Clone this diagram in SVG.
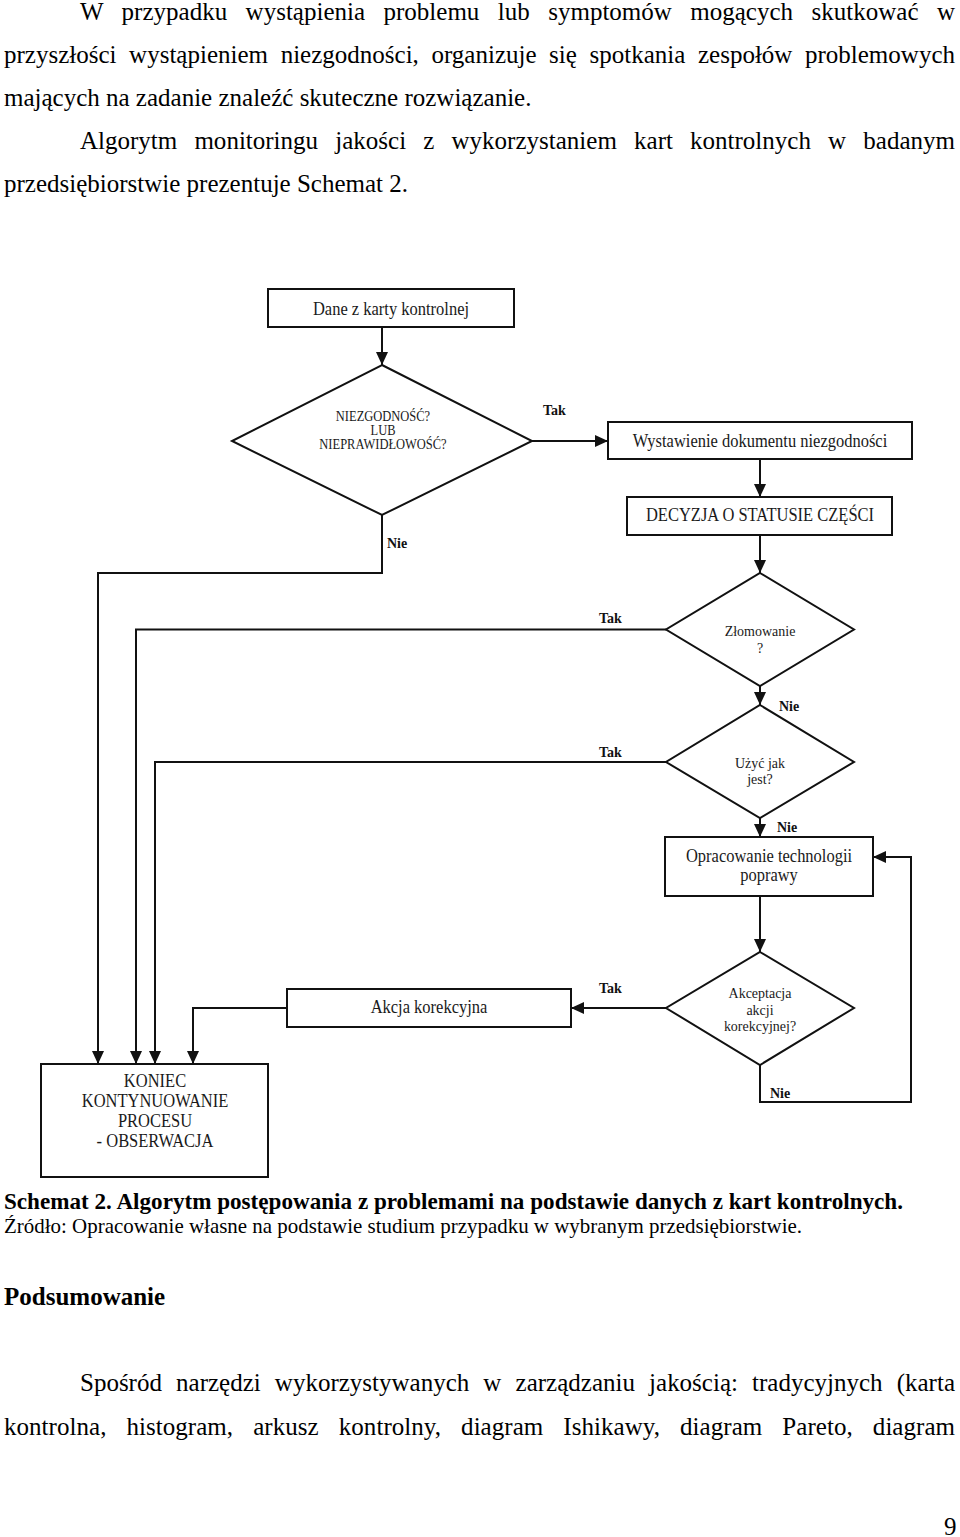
<svg xmlns="http://www.w3.org/2000/svg" width="960" height="1537" viewBox="0 0 960 1537">
<style>
text{font-family:"Liberation Serif","Times New Roman",serif;fill:#000}
.body{font-size:25px}
.bb{font-size:25px;font-weight:bold}
.box{fill:#fff;stroke:#111;stroke-width:2}
.dt{font-size:16.5px;fill:#1a1a1a;text-anchor:middle}
.dd{font-size:14px;fill:#1a1a1a;text-anchor:middle}
.d1{font-size:12.5px;fill:#1a1a1a;text-anchor:middle}
.lb{font-size:14px;font-weight:bold;fill:#111}
.ln{fill:none;stroke:#111;stroke-width:2}
.ar{marker-end:url(#ah)}
</style>
<defs>
<marker id="ah" markerUnits="userSpaceOnUse" markerWidth="14" markerHeight="14" refX="13" refY="6" orient="auto">
<path d="M0,0 L13,6 L0,12 z" fill="#111"/>
</marker>
</defs>
<rect width="960" height="1537" fill="#fff"/>

<g id="intro">
<text class="body" x="80" y="20" word-spacing="12.2" textLength="875" lengthAdjust="spacing">W przypadku wystąpienia problemu lub symptomów mogących skutkować w</text>
<text class="body" x="4" y="63" word-spacing="6.3" textLength="951" lengthAdjust="spacing">przyszłości wystąpieniem niezgodności, organizuje się spotkania zespołów problemowych</text>
<text class="body" x="4" y="106">mających na zadanie znaleźć skuteczne rozwiązanie.</text>
<text class="body" x="80" y="149" word-spacing="10.9" textLength="875" lengthAdjust="spacing">Algorytm monitoringu jakości z wykorzystaniem kart kontrolnych w badanym</text>
<text class="body" x="4" y="192">przedsiębiorstwie prezentuje Schemat 2.</text>
</g>

<g id="connectors">
<path class="ln ar" d="M382,327 V365"/>
<path class="ln ar" d="M532,441 H608"/>
<path class="ln ar" d="M760,459 V497"/>
<path class="ln ar" d="M760,535 V573"/>
<path class="ln ar" d="M760,686 V705"/>
<path class="ln ar" d="M760,818 V837"/>
<path class="ln ar" d="M760,896 V952"/>
<path class="ln ar" d="M666,1008 H571"/>
<path class="ln ar" d="M382,515 V573 H98 V1064"/>
<path class="ln ar" d="M666,629.5 H136 V1064"/>
<path class="ln ar" d="M666,762 H155 V1064"/>
<path class="ln ar" d="M287,1008 H193 V1064"/>
<path class="ln ar" d="M760,1065 V1102 H911 V857 H873"/>
</g>

<g id="labels">
<text class="lb" x="543" y="415">Tak</text>
<text class="lb" x="387" y="548">Nie</text>
<text class="lb" x="599" y="623">Tak</text>
<text class="lb" x="779" y="710.5">Nie</text>
<text class="lb" x="599" y="756.5">Tak</text>
<text class="lb" x="777" y="831.5">Nie</text>
<text class="lb" x="599" y="993">Tak</text>
<text class="lb" x="770" y="1097.5">Nie</text>
</g>

<g id="n-dane">
<rect class="box" x="268" y="289" width="246" height="38"/>
<text class="dt" transform="translate(391,315) scale(1,1.1)">Dane z karty kontrolnej</text>
</g>

<g id="n-niezgodnosc">
<polygon class="box" points="382,365 532,441 382,515 232,441"/>
<text class="d1" transform="translate(383,420.5) scale(1,1.1)">NIEZGODNOŚĆ?</text>
<text class="d1" transform="translate(383,434.6) scale(1,1.1)">LUB</text>
<text class="d1" transform="translate(383,448.7) scale(1,1.1)">NIEPRAWIDŁOWOŚĆ?</text>
</g>

<g id="n-wystawienie">
<rect class="box" x="608" y="422" width="304" height="37"/>
<text class="dt" transform="translate(760,447) scale(1,1.1)">Wystawienie dokumentu niezgodności</text>
</g>

<g id="n-decyzja">
<rect class="box" x="627" y="497" width="265" height="38"/>
<text class="dt" transform="translate(760,521) scale(1,1.1)">DECYZJA O STATUSIE CZĘŚCI</text>
</g>

<g id="n-zlomowanie">
<polygon class="box" points="760,573 854,629.5 760,686 666,629.5"/>
<text class="dd" transform="translate(760,636) scale(1,1.1)">Złomowanie</text>
<text class="dd" transform="translate(760,653) scale(1,1.1)">?</text>
</g>

<g id="n-uzyc">
<polygon class="box" points="760,705 854,762 760,818 666,762"/>
<text class="dd" transform="translate(760,768) scale(1,1.1)">Użyć jak</text>
<text class="dd" transform="translate(760,784) scale(1,1.1)">jest?</text>
</g>

<g id="n-opracowanie">
<rect class="box" x="665" y="837" width="208" height="59"/>
<text class="dt" transform="translate(769,862) scale(1,1.1)">Opracowanie technologii</text>
<text class="dt" transform="translate(769,881) scale(1,1.1)">poprawy</text>
</g>

<g id="n-akceptacja">
<polygon class="box" points="760,952 854,1008 760,1065 666,1008"/>
<text class="dd" transform="translate(760,997.7) scale(1,1.1)">Akceptacja</text>
<text class="dd" transform="translate(760,1015) scale(1,1.1)">akcji</text>
<text class="dd" transform="translate(760,1030.7) scale(1,1.1)">korekcyjnej?</text>
</g>

<g id="n-akcja">
<rect class="box" x="287" y="989" width="284" height="38"/>
<text class="dt" transform="translate(429,1013.3) scale(1,1.1)">Akcja korekcyjna</text>
</g>

<g id="n-koniec">
<rect class="box" x="41" y="1064" width="227" height="113"/>
<text class="dt" transform="translate(155,1086.7) scale(1,1.1)">KONIEC</text>
<text class="dt" transform="translate(155,1106.7) scale(1,1.1)">KONTYNUOWANIE</text>
<text class="dt" transform="translate(155,1126.7) scale(1,1.1)">PROCESU</text>
<text class="dt" transform="translate(155,1146.7) scale(1,1.1)">- OBSERWACJA</text>
</g>

<g id="caption">
<text x="4" y="1209" font-size="23" font-weight="bold" textLength="899" lengthAdjust="spacingAndGlyphs">Schemat 2. Algorytm postępowania z problemami na podstawie danych z kart kontrolnych.</text>
<text x="4" y="1233" font-size="21" textLength="798" lengthAdjust="spacingAndGlyphs">Źródło: Opracowanie własne na podstawie studium przypadku w wybranym przedsiębiorstwie.</text>
</g>

<g id="summary">
<text class="bb" x="4" y="1305">Podsumowanie</text>
<text class="body" x="80" y="1391" word-spacing="7.9" textLength="875" lengthAdjust="spacing">Spośród narzędzi wykorzystywanych w zarządzaniu jakością: tradycyjnych (karta</text>
<text class="body" x="4" y="1435" word-spacing="13.8" textLength="951" lengthAdjust="spacing">kontrolna, histogram, arkusz kontrolny, diagram Ishikawy, diagram Pareto, diagram</text>
<text class="body" x="944" y="1535">9</text>
</g>
</svg>
